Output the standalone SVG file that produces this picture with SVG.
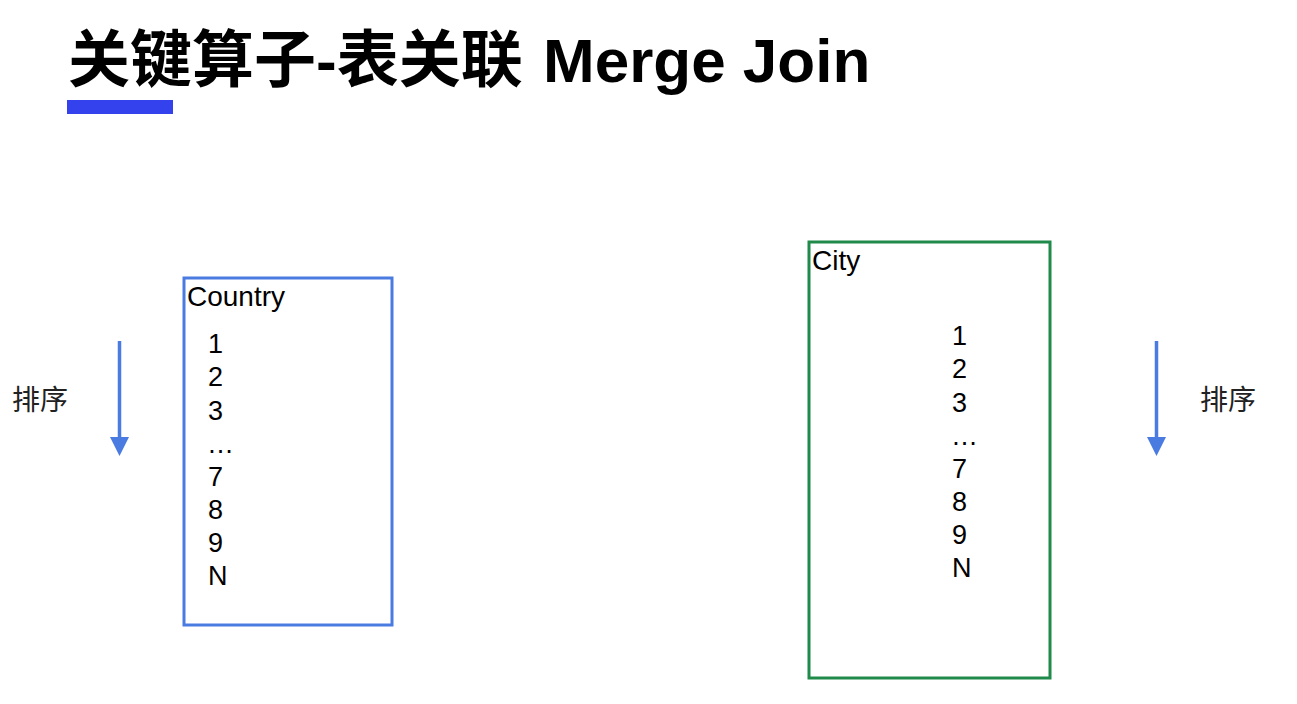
<svg xmlns="http://www.w3.org/2000/svg" width="1297" height="704" viewBox="0 0 1297 704">
  <style>
    .title { font-family: "Liberation Sans", "Noto Sans CJK SC", sans-serif; font-size: 62px; font-weight: bold; fill: #000; }
    .label { font-family: "Liberation Sans", "Noto Sans CJK SC", sans-serif; font-size: 27px; fill: #000; }
    .head { font-size: 28px; }
    .cjk { font-family: "Noto Sans CJK SC", sans-serif; font-size: 28px; fill: #222; }
    .arrow { stroke: #4a7be0; stroke-width: 3.5; fill: none; }
  </style>
  <defs>
    <marker id="head" markerUnits="userSpaceOnUse" markerWidth="19" markerHeight="19" viewBox="0 0 20 20" refX="0" refY="10" orient="auto">
      <path d="M0,0 L20,10 L0,20 Z" fill="#4a7be0"/>
    </marker>
  </defs>
  <rect x="0" y="0" width="1297" height="704" fill="#ffffff"/>

  <g id="title">
    <text class="title" x="68" y="82">关键算子-表关联 <tspan x="543">Merge Join</tspan></text>
    <rect x="67" y="100" width="106" height="14" fill="#3442ee"/>
  </g>

  <g id="country">
    <rect x="184" y="278" width="208" height="347" fill="none" stroke="#4a7be0" stroke-width="3"/>
    <text class="label head" x="187" y="306">Country</text>
    <text class="label" x="208" y="353">1</text>
    <text class="label" x="208" y="386">2</text>
    <text class="label" x="208" y="420">3</text>
    <text class="label" x="207" y="453">…</text>
    <text class="label" x="208" y="486">7</text>
    <text class="label" x="208" y="519">8</text>
    <text class="label" x="208" y="552">9</text>
    <text class="label" x="208" y="585">N</text>
  </g>

  <g id="city">
    <rect x="809" y="242" width="241" height="436" fill="none" stroke="#1f8a4a" stroke-width="3"/>
    <text class="label head" x="812" y="270">City</text>
    <text class="label" x="952" y="345">1</text>
    <text class="label" x="952" y="378">2</text>
    <text class="label" x="952" y="412">3</text>
    <text class="label" x="951" y="445">…</text>
    <text class="label" x="952" y="478">7</text>
    <text class="label" x="952" y="511">8</text>
    <text class="label" x="952" y="544">9</text>
    <text class="label" x="952" y="577">N</text>
  </g>

  <g id="sort-left">
    <text class="cjk" x="12" y="410">排序</text>
  </g>

  <g id="sort-right">
    <text class="cjk" x="1200" y="410">排序</text>
  </g>

  <g id="connectors">
    <line class="arrow" x1="119.5" y1="341" x2="119.5" y2="437" marker-end="url(#head)"/>
    <line class="arrow" x1="1156.5" y1="341" x2="1156.5" y2="437" marker-end="url(#head)"/>
  </g>
</svg>
